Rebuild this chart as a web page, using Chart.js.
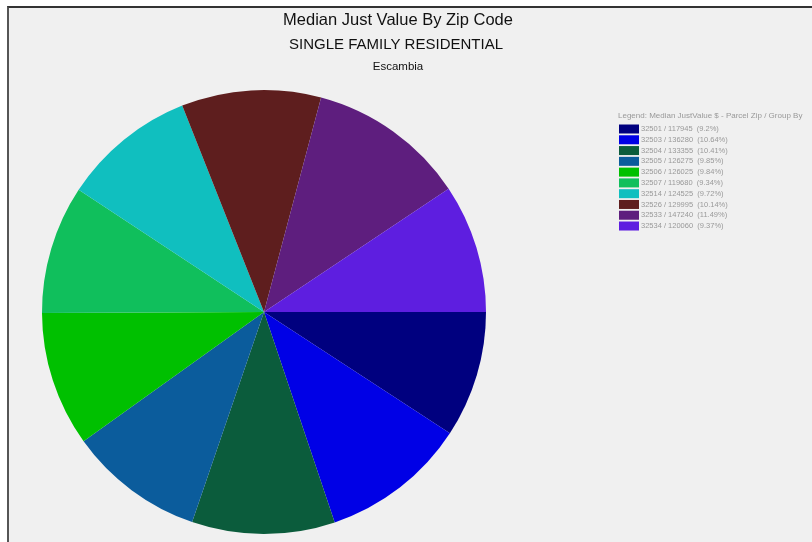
<!DOCTYPE html>
<html><head><meta charset="utf-8">
<script src="https://cdn.jsdelivr.net/npm/chart.js@4/dist/chart.umd.min.js"></script>
<style>
html,body{margin:0;padding:0;background:#fff;}
#wrap{position:absolute;left:0;top:0;width:812px;height:542px;}
#frame{position:absolute;left:7px;top:6px;right:0;bottom:0;border-top:2px solid #333;border-left:2px solid #555;background:#f0f0f0;}
canvas{position:absolute;left:0;top:0;}
</style></head>
<body><div id="wrap"><div id="frame"></div><canvas id="c" width="812" height="542"></canvas></div>
<script>
const zipCodes = ['32501','32503','32504','32505','32506','32507','32514','32526','32533','32534'];
const medianValues = [117945,136280,133355,126275,126025,119680,124525,129995,147240,120060];
const percentLabels = ['9.2%','10.64%','10.41%','9.85%','9.84%','9.34%','9.72%','10.14%','11.49%','9.37%'];
const sliceColors = ['#00007f','#0000e6','#0b5c3c','#0b5c9c','#00c000','#10bf5c','#10bfbf','#5e1e1e','#5e1e7e','#5e1ee0'];
const titleLines = ['Median Just Value By Zip Code','SINGLE FAMILY RESIDENTIAL','Escambia'];
const legendTitle = 'Legend: Median JustValue $ - Parcel Zip / Group By';

const overlay = {
  id:'overlay',
  afterDraw(chart){
    const ctx = chart.ctx;
    ctx.save();
    ctx.fillStyle = '#111';
    ctx.textAlign = 'center';
    ctx.textBaseline = 'middle';
    ctx.font = '16.5px "Liberation Sans", Arial, sans-serif';
    ctx.fillText(titleLines[0], 398, 20);
    ctx.font = '15px "Liberation Sans", Arial, sans-serif';
    ctx.fillText(titleLines[1], 396, 45);
    ctx.font = '11.5px "Liberation Sans", Arial, sans-serif';
    ctx.fillText(titleLines[2], 398, 67);
    ctx.textAlign = 'left';
    ctx.fillStyle = '#999';
    ctx.font = '8px "Liberation Sans", Arial, sans-serif';
    ctx.fillText(legendTitle, 618, 116);
    ctx.font = '7.5px "Liberation Sans", Arial, sans-serif';
    for (let i=0;i<zipCodes.length;i++){
      const y = 129 + i*10.78;
      ctx.fillStyle = sliceColors[i];
      ctx.fillRect(619, y-4.5, 20, 9);
      ctx.fillStyle = '#999';
      ctx.fillText(zipCodes[i]+' / '+medianValues[i]+'  ('+percentLabels[i]+')', 641, y);
    }
    ctx.restore();
  }
};

new Chart(document.getElementById('c'), {
  type:'pie',
  data:{labels:zipCodes, datasets:[{data:medianValues, backgroundColor:sliceColors, borderWidth:0}]},
  options:{
    responsive:false, animation:false, rotation:90,
    layout:{padding:{left:42,right:326,top:90,bottom:8}},
    plugins:{legend:{display:false}, title:{display:false}, tooltip:{enabled:false}}
  },
  plugins:[overlay]
});
</script></body></html>
